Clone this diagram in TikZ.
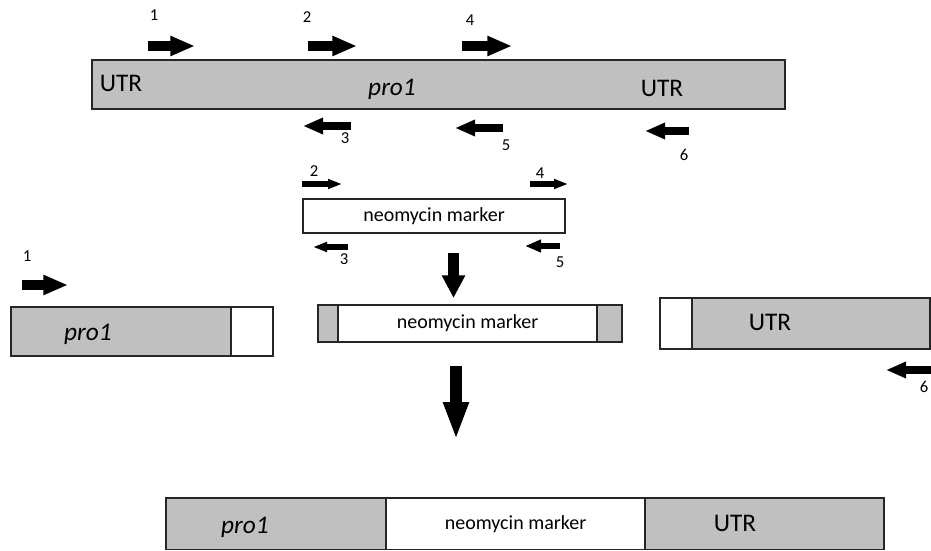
\documentclass[tikz,border=0pt]{standalone}
\usepackage{fontspec}
\setmainfont{Carlito}
\usetikzlibrary{arrows.meta,positioning}

\definecolor{genegray}{HTML}{C0C0C0}

\begin{document}
\begin{tikzpicture}[x=0.75pt,y=-0.75pt,
	box/.style={draw=black!85,line width=0.8pt,inner sep=0pt,outer sep=0pt,anchor=north west},
	gene box/.style={box,fill=genegray},
	plain box/.style={box,fill=white},
	big label/.style={font=\fontsize{19}{22}\selectfont},
	marker label/.style={font=\fontsize{15}{18}\selectfont},
	num/.style={font=\fontsize{12.5}{14}\selectfont},
	primer/.style args={#1/#2/#3}{draw,line width=#1,-{Triangle[width=#2,length=#3]}},
	big primer/.style={primer=7.5pt/14pt/18.5pt},
	rev primer/.style={primer=6pt/11.5pt/15pt},
	small primer/.style={primer=4pt/7pt/10.5pt},
	step arrow/.style={primer=8.25pt/16.5pt/17pt},
	final arrow/.style={primer=9pt/17.5pt/28.5pt}
]

	\def \px {0.75pt}

	\useasboundingbox (0,0) rectangle (931,550);

	% wild type locus
	\node[gene box,minimum width=693*\px,minimum height=49*\px] (locus) at (92,60) {};
	\node[big label] (utrA) at (121,83) {UTR};
	\node[big label] (proA) at (392,89) {\itshape pro1};
	\node[big label] (utrB) at (662,88) {UTR};

	\draw[big primer] (148,46) -- (195,46);
	\draw[big primer] (308,46) -- (357,46);
	\draw[big primer] (462,46) -- (512,46);
	\draw[rev primer] (351,126) -- (303,126);
	\draw[rev primer] (503,128) -- (455,128);
	\draw[rev primer] (689,131) -- (645,131);
	\node[num] (pA1) at (154,15) {1};
	\node[num] (pA2) at (307,17) {2};
	\node[num] (pA4) at (470,20) {4};
	\node[num] (pA3) at (345,138) {3};
	\node[num] (pA5) at (506,145) {5};
	\node[num] (pA6) at (684,155) {6};

	% marker
	\node[plain box,marker label,minimum width=262*\px,minimum height=34*\px] (neo) at (303,199) {neomycin marker};
	\draw[small primer] (302,184) -- (342,184);
	\draw[small primer] (530,184) -- (568,184);
	\draw[small primer] (348,247) -- (313,247);
	\draw[primer=5pt/9pt/12pt] (560,246) -- (525,246);
	\node[num] (pB2) at (314,171) {2};
	\node[num] (pB4) at (540,173) {4};
	\node[num] (pB3) at (344,259) {3};
	\node[num] (pB5) at (560,262) {5};

	\draw[step arrow] (453.5,253) -- (453.5,298);

	% PCR fragments
	\node[gene box,minimum width=220*\px,minimum height=49*\px] (frag5) at (11,307) {};
	\node[plain box,minimum width=42*\px,minimum height=49*\px,right=0pt of frag5.north east,anchor=north west] (tail5) {};
	\node[big label] (proB) at (88,334) {\itshape pro1};
	\draw[big primer] (22,285) -- (68,285);
	\node[num] (pC1) at (27,256) {1};

	\node[gene box,minimum width=20*\px,minimum height=37*\px] (capL) at (318,305) {};
	\node[plain box,marker label,minimum width=259*\px,minimum height=37*\px,anchor=north west] (neoB) at (capL.north east) {neomycin marker};
	\node[gene box,minimum width=25*\px,minimum height=37*\px,anchor=north west] (capR) at (neoB.north east) {};

	\node[plain box,minimum width=32*\px,minimum height=51*\px] (tail3) at (660,298) {};
	\node[gene box,minimum width=238*\px,minimum height=51*\px,anchor=north west] (frag3) at (tail3.north east) {};
	\node[big label] (utrC) at (770,322) {UTR};
	\draw[rev primer] (931,370) -- (886,370);
	\node[num] (pC6) at (924,387) {6};

	\draw[final arrow] (456,366) -- (456,440);

	% knockout construct
	\node[gene box,minimum width=220*\px,minimum height=51.5*\px] (koPro) at (166,498) {};
	\node[plain box,marker label,minimum width=259*\px,minimum height=51.5*\px,anchor=north west] (koNeo) at (koPro.north east) {neomycin marker};
	\node[gene box,minimum width=239*\px,minimum height=51.5*\px,anchor=north west] (koUtr) at (koNeo.north east) {};
	\node[big label] (proC) at (245,527) {\itshape pro1};
	\node[big label] (utrD) at (735,523) {UTR};
\end{tikzpicture}
\end{document}
